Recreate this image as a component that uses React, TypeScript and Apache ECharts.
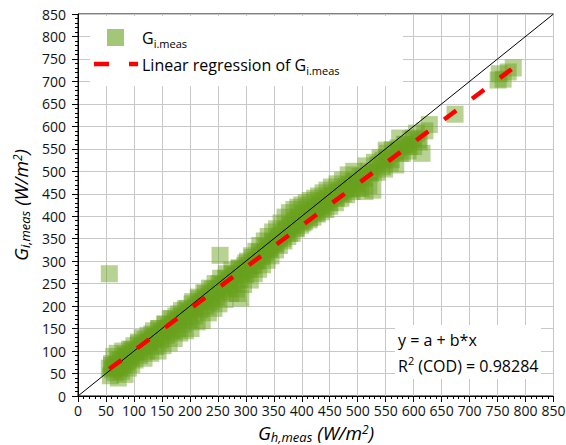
import React, { useEffect, useRef } from "react";
import * as echarts from "echarts";

// G_h,meas (x) vs G_i,meas (y) measured points, W/m²
const pointsLow: [number, number][] = [
  [56, 62], [58, 45], [60, 72], [62, 58], [64, 88], [66, 52], [68, 70], [70, 95], [72, 40], [74, 62],
  [76, 80], [78, 55], [80, 100], [82, 70], [84, 48], [86, 88], [88, 76], [90, 62], [92, 104], [94, 85],
  [96, 70], [98, 95], [56, 272],
];
const pointsMidLow: [number, number][] = [
  [100, 112], [102, 80], [105, 98], [108, 120], [110, 90], [112, 105], [115, 130], [118, 84], [120, 112],
  [123, 100], [125, 135], [128, 118], [130, 95], [133, 125], [135, 145], [138, 110], [140, 130], [143, 100],
  [145, 150], [148, 125], [150, 140], [152, 112], [155, 160], [158, 135], [160, 150], [163, 118], [165, 172],
  [168, 145], [170, 160], [172, 128], [175, 178], [178, 150], [180, 168], [182, 140], [185, 190], [188, 160],
  [190, 175], [192, 145], [195, 195], [198, 170],
];
const pointsMid: [number, number][] = [
  [200, 185], [202, 150], [205, 210], [208, 178], [210, 195], [213, 165], [215, 220], [218, 192], [220, 205],
  [222, 168], [225, 230], [228, 200], [230, 215], [233, 185], [235, 240], [238, 210], [240, 225], [243, 195],
  [245, 250], [248, 220], [250, 238], [252, 205], [255, 262], [258, 232], [260, 248], [263, 215], [265, 272],
  [268, 240], [270, 258], [273, 228], [275, 280], [278, 250], [280, 268], [283, 238], [285, 228], [288, 285],
  [290, 258], [291, 218], [293, 275], [296, 248], [298, 290], [254, 313],
];
const pointsMidHigh: [number, number][] = [
  [300, 270], [303, 300], [305, 282], [308, 258], [310, 312], [313, 290], [315, 272], [318, 322], [320, 300],
  [323, 282], [325, 335], [328, 310], [330, 292], [333, 345], [335, 320], [338, 302], [340, 355], [343, 330],
  [345, 312], [348, 365], [350, 340], [353, 325], [355, 372], [358, 350], [360, 335], [363, 385], [365, 360],
  [368, 345], [370, 398], [373, 372], [375, 355], [378, 408], [380, 380], [383, 362], [386, 415], [388, 390],
  [390, 372], [393, 420], [395, 398], [398, 380], [400, 425], [403, 405], [405, 388], [408, 430], [410, 410],
  [413, 392], [415, 435], [418, 415], [420, 398], [423, 440], [425, 420], [428, 405], [430, 445], [433, 425],
  [435, 410], [438, 452], [440, 432], [443, 415], [445, 458], [448, 438],
];
const pointsHigh: [number, number][] = [
  [450, 422], [453, 465], [456, 445], [460, 430], [463, 472], [466, 452], [470, 440], [473, 480], [476, 460],
  [480, 448], [483, 492], [486, 470], [490, 455], [493, 500], [496, 478], [500, 462], [505, 462], [510, 490],
  [513, 455], [515, 512], [520, 468], [523, 495], [527, 458], [530, 520], [535, 498], [540, 530], [545, 525],
  [548, 505], [551, 547], [553, 540], [558, 518], [562, 548], [568, 514], [572, 552], [575, 574], [580, 540],
  [585, 560], [590, 545], [595, 572], [600, 555], [605, 585], [610, 565], [615, 540], [620, 590], [628, 604],
  [674, 627], [751, 703], [753, 717], [760, 705], [769, 721], [778, 730],
];
// dense core of the cloud
const pointsCore: [number, number][] = [
  [60, 68], [66, 64], [72, 80], [78, 76], [84, 92], [90, 88], [96, 104], [102, 98], [108, 116], [114, 110],
  [120, 126], [126, 120], [132, 138], [138, 132], [144, 150], [150, 143], [156, 160], [162, 154], [168, 172],
  [174, 166], [180, 183], [186, 178], [192, 194], [198, 188], [204, 205], [210, 200], [216, 216], [222, 210],
  [228, 228], [234, 222], [240, 238], [246, 233], [252, 250], [258, 245], [264, 262], [270, 256], [276, 272],
  [282, 268], [288, 284], [294, 280], [300, 296], [306, 290], [312, 308], [318, 302], [324, 320], [330, 315],
  [336, 332], [342, 326], [348, 344], [354, 338], [360, 356], [366, 350], [372, 368], [378, 362], [384, 380],
  [390, 374], [396, 390], [402, 385], [408, 402], [414, 396], [420, 412], [426, 407], [432, 424], [438, 418],
  [444, 434], [450, 430], [456, 445], [462, 440], [468, 456], [474, 450], [480, 466], [486, 460], [492, 476],
  [498, 472], [504, 488], [512, 484], [520, 500], [528, 496], [536, 515], [544, 510], [552, 530], [560, 526],
  [568, 545], [576, 540], [584, 560], [592, 555], [600, 574], [608, 570],
];

const identityLine: [number, number][] = [[0, 0], [850, 850]];
const regressionLine: [number, number][] = [[56, 60], [775, 727]];

const FONT = "'Open Sans', 'Noto Sans', sans-serif";
const GREEN = "rgba(104,160,30,0.6)";

export default function App() {
  const ref = useRef<HTMLDivElement>(null);
  useEffect(() => {
    if (!ref.current) return;
    const chart = echarts.init(ref.current, null, { renderer: "svg" });
    const allPoints = [
      ...pointsLow, ...pointsMidLow, ...pointsMid, ...pointsMidHigh, ...pointsHigh, ...pointsCore,
    ];
    const titleRich = {
      g: { fontSize: 19, fontStyle: "italic", fontFamily: FONT, color: "#000", lineHeight: 20 },
      sub: { fontSize: 13, fontStyle: "italic", fontFamily: FONT, color: "#000", lineHeight: 13, verticalAlign: "bottom" },
      sup: { fontSize: 12, fontStyle: "italic", fontFamily: FONT, color: "#000", lineHeight: 12, verticalAlign: "top" },
    };
    const textRich = {
      g: { fontSize: 16, fontFamily: FONT, color: "#000", lineHeight: 22 },
      sub: { fontSize: 11, fontFamily: FONT, color: "#000", lineHeight: 11, verticalAlign: "bottom" },
      sup: { fontSize: 11, fontFamily: FONT, color: "#000", lineHeight: 11, verticalAlign: "top" },
    };
    const axisCommon = {
      type: "value" as const,
      min: 0,
      max: 850,
      interval: 50,
      axisLine: { show: true, lineStyle: { color: "#000", width: 1 } },
      axisTick: { show: true, length: 6, lineStyle: { color: "#000", width: 1 } },
      minorTick: { show: true, splitNumber: 5, length: 3, lineStyle: { color: "#000", width: 1 } },
      splitLine: { show: true, lineStyle: { color: "#c8c8c8", width: 1 } },
      axisLabel: { fontSize: 14, fontFamily: FONT, color: "#111" },
    };
    chart.setOption({
      animation: false,
      grid: {
        left: 78, top: 14, width: 475.5, height: 382, show: true, borderColor: "#000", borderWidth: 1,
        containLabel: false, outerBoundsMode: "none",
      },
      xAxis: {
        ...axisCommon,
        axisLabel: { ...axisCommon.axisLabel, margin: 6, lineHeight: 16 },
      },
      yAxis: {
        ...axisCommon,
        axisLabel: { ...axisCommon.axisLabel, margin: 12 },
        name: "{g|G}{sub|i,meas}{g| (W/m}{sup|2}{g|)}",
        nameLocation: "middle",
        nameTextStyle: { rich: titleRich },
        nameGap: 46,
        nameRotate: 90,
      },
      series: [
        {
          type: "scatter",
          data: allPoints,
          symbol: "rect",
          symbolSize: 17,
          itemStyle: { color: GREEN },
          z: 2,
        },
        {
          type: "line",
          data: identityLine,
          symbol: "none",
          lineStyle: { color: "#000", width: 1 },
          z: 3,
        },
        {
          type: "line",
          data: regressionLine,
          symbol: "none",
          lineStyle: { color: "#ff0000", width: 4.5, type: [15, 19.8] },
          z: 4,
        },
      ],
      graphic: [
        { type: "rect", z: 1, shape: { x: 90, y: 16, width: 313, height: 70 }, style: { fill: "#fff" } },
        { type: "rect", z: 5, shape: { x: 107, y: 29, width: 17, height: 17 }, style: { fill: GREEN } },
        {
          type: "line",
          z: 5,
          shape: { x1: 94, y1: 64, x2: 138, y2: 64 },
          style: { stroke: "#ff0000", lineWidth: 4.5, lineDash: [15, 20] },
        },
        {
          type: "text",
          z: 5,
          x: 142,
          y: 38,
          style: { text: "{g|G}{sub|i.meas}", rich: textRich, verticalAlign: "middle", align: "left" },
        },
        {
          type: "text",
          z: 5,
          x: 142,
          y: 65,
          style: { text: "{g|Linear regression of G}{sub|i.meas}", rich: textRich, verticalAlign: "middle", align: "left" },
        },
        { type: "rect", z: 1, shape: { x: 395, y: 325, width: 146, height: 54 }, style: { fill: "#fff" } },
        {
          type: "text",
          z: 5,
          x: 398,
          y: 340,
          style: { text: "{g|y = a + b*x}", rich: textRich, verticalAlign: "middle", align: "left" },
        },
        {
          type: "text",
          z: 5,
          x: 398,
          y: 366,
          style: { text: "{g|R}{sup|2}{g| (COD) = 0.98284}", rich: textRich, verticalAlign: "middle", align: "left" },
        },
        {
          type: "text",
          z: 5,
          x: 316,
          y: 433,
          style: {
            text: "{g|G}{sub|h,meas}{g| (W/m}{sup|2}{g|)}",
            rich: titleRich,
            verticalAlign: "middle",
            align: "center",
          },
        },
      ],
    });
    return () => chart.dispose();
  }, []);
  return (
    <div
      ref={ref}
      style={{ position: "absolute", left: 0, top: 0, width: 566, height: 445, background: "#fff" }}
    />
  );
}
